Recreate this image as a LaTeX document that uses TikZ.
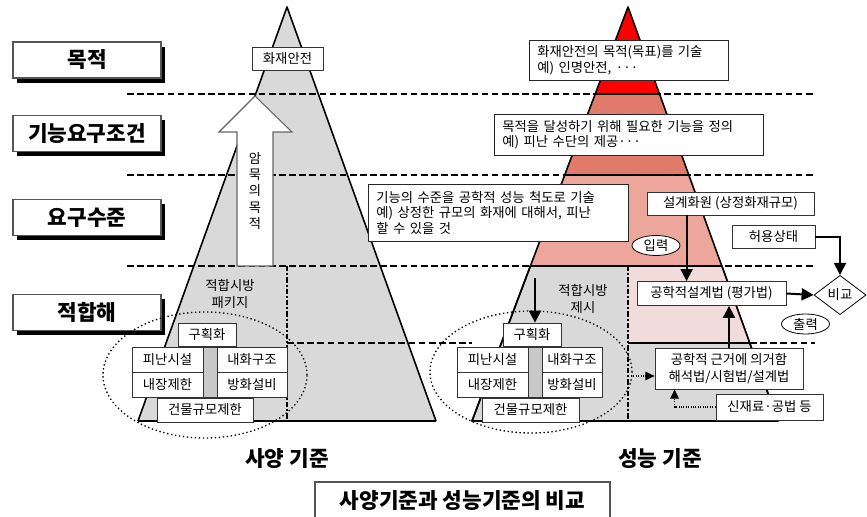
\documentclass[tikz,border=0pt]{standalone}
\usepackage{fontspec}
\setmainfont{Noto Sans CJK KR}
\usetikzlibrary{arrows.meta,shapes.geometric,calc,shadows}
\definecolor{pgray}{HTML}{D9D9D9}
\definecolor{barg}{HTML}{C8C8C8}
\definecolor{bandA}{HTML}{FF0000}
\definecolor{bandB}{HTML}{E07B6B}
\definecolor{bandC}{HTML}{ECA69B}
\definecolor{pinkr}{HTML}{F2DCDB}
\definecolor{edgeg}{HTML}{555555}
\newcommand\smallfs{\fontsize{10}{12.5}\selectfont}
\begin{document}
\begin{tikzpicture}[x=0.75pt,y=-0.75pt,
  lbl/.style={draw=edgeg, fill=white, line width=0.9pt, minimum width=111pt, minimum height=27pt, inner sep=0pt, font=\bfseries\fontsize{16}{19}\selectfont, drop shadow={shadow xshift=3pt,shadow yshift=-3.5pt,fill=black,opacity=1}},
  sbox/.style={draw=black!80, fill=white, line width=0.6pt, inner sep=0pt, font=\smallfs},
  tbox/.style={draw=black!85, fill=white, line width=0.6pt, inner xsep=6pt, inner ysep=0pt, align=left, anchor=north west, font=\fontsize{10}{11.8}\selectfont},
  hdash/.style={line width=1.2pt, dash pattern=on 5pt off 2.6pt},
  vdash/.style={line width=1.1pt, dash pattern=on 4pt off 1.5pt on 1.5pt off 1.5pt},
  pedge/.style={line width=1.2pt, line join=round},
  arr/.style={line width=1.5pt, -{Triangle[length=9pt,width=9pt]}},
  darr/.style={line width=0.8pt, densely dotted, -{Triangle[length=7pt,width=6.5pt]}},
  dell/.style={draw, ellipse, line width=1pt, dotted, inner sep=0pt},
  oval/.style={draw, ellipse, fill=white, line width=0.6pt, inner sep=0pt, minimum width=36pt, minimum height=15pt, font=\smallfs},
  txt/.style={align=center, font=\fontsize{10}{12.8}\selectfont},
  big/.style={font=\bfseries\fontsize{16}{19}\selectfont},
]
\useasboundingbox (0,0) rectangle (867,517);
\fill[white] (0,0) rectangle (867,517);

% left pyramid
\fill[pgray] (287,7) -- (436,421) -- (138,421) -- cycle;
\draw[pedge] (138,421) -- (287,7) -- (436,421);
\draw[pedge] (138,421) -- (436,421);

% horizontal dashed levels
\draw[hdash] (127,94) -- (815,94);
\draw[hdash] (127,175) -- (815,175);
\draw[hdash] (127,266) -- (815,266);
\draw[hdash] (287,343) -- (472,343);
\draw[hdash] (750,343) -- (815,343);
\draw[vdash] (287,266) -- (287,421);

% right pyramid
\filldraw[fill=bandA, pedge] (628,7) -- (659.5,94) -- (595.2,94) -- cycle;
\filldraw[fill=bandB, pedge] (595.2,94) -- (659.5,94) -- (688.8,175) -- (564.7,175) -- cycle;
\filldraw[fill=bandC, pedge] (564.7,175) -- (688.8,175) -- (721.8,266) -- (530.4,266) -- cycle;
\filldraw[fill=pgray, pedge] (530.4,266) -- (721.8,266) -- (778,421) -- (472,421) -- cycle;
\fill[pinkr] (628,266) -- (721.8,266) -- (749.6,343) -- (628,343) -- cycle;
\draw[pedge] (628,343) -- (749.6,343);
\draw[pedge] (530.4,266) -- (721.8,266) -- (778,421) -- (472,421) -- cycle;
\draw[vdash] (628,266) -- (628,421);

% big hollow arrow
\draw[draw=gray!80!black, fill=white, line width=0.8pt, line join=miter]
  (237,266) -- (237,132) -- (219,132) -- (255,96) -- (292,132) -- (273,132) -- (273,266) -- cycle;
\node[align=center, font=\fontsize{10}{12.2}\selectfont] (amuk) at (255,191) {암\\묵\\의\\목\\적};

% left level labels
\node[lbl] (l1) at (87,60) {목적};
\node[lbl] (l2) at (87,133.5) {기능요구조건};
\node[lbl] (l3) at (87,217.5) {요구수준};
\node[lbl] (l4) at (87,312.5) {적합해};

% left pyramid contents
\node[sbox, minimum width=53.25pt, minimum height=17.25pt] (top) at (287.5,58.5) {화재안전};
\node[txt] (pkg) at (230,293.5) {적합시방\\패키지};
\node[sbox, minimum width=43.5pt, minimum height=17.25pt] (lgh) at (207,334.5) {구획화};
\draw[fill=barg, draw=black!80, line width=0.6pt] (203,347) rectangle (217,397);
\node[sbox, minimum width=53.25pt, minimum height=18.75pt] (lpn) at (167.5,359.5) {피난시설};
\node[sbox, minimum width=53.25pt, minimum height=18.75pt] (lnj) at (167.5,384.5) {내장제한};
\node[sbox, minimum width=52.5pt, minimum height=18.75pt] (lnh) at (252,359.5) {내화구조};
\node[sbox, minimum width=52.5pt, minimum height=18.75pt] (lbh) at (252,384.5) {방화설비};
\node[sbox, minimum width=72pt, minimum height=18pt] (lgm) at (205,410) {건물규모제한};

% right pyramid contents
\node[tbox, text width=137.25pt, minimum height=30pt] (b1) at (529,40) {화재안전의 목적(목표)를 기술\\예) 인명안전, ···};
\node[tbox, text width=189.75pt, minimum height=30.75pt] (b2) at (494,114) {목적을 달성하기 위해 필요한 기능을 정의\\예) 피난 수단의 제공···};
\node[tbox, text width=183pt, minimum height=42.75pt] (b3) at (368,184) {기능의 수준을 공학적 성능 척도로 기술\\예) 상정한 규모의 화재에 대해서, 피난\\할 수 있을 것};
\node[sbox, minimum width=125.25pt, minimum height=17.25pt] (sg) at (730.5,203.5) {설계화원 (상정화재규모)};
\node[sbox, minimum width=62.25pt, minimum height=17.25pt] (hy) at (773.5,236.5) {허용상태};
\node[oval] (inp) at (656,245.5) {입력};
\node[sbox, minimum width=111.75pt, minimum height=18pt] (eng) at (711.5,293.5) {공학적설계법 (평가법)};
\node[draw, diamond, fill=white, line width=0.6pt, inner sep=0pt, minimum width=39pt, minimum height=29.5pt, font=\smallfs] (cmp) at (840,295) {비교};
\node[oval] (out) at (805.5,324) {출력};
\node[sbox, align=center, minimum width=111pt, minimum height=30.75pt, font=\fontsize{10}{12.2}\selectfont] (gk) at (729,368.5) {공학적 근거에 의거함\\해석법/시험법/설계법};
\node[sbox, minimum width=80.25pt, minimum height=19.5pt] (sj) at (769.5,407) {신재료·공법 등};

\node[txt] (pres) at (583,299) {적합시방\\제시};
\node[sbox, minimum width=43.5pt, minimum height=17.25pt] (rgh) at (532,334.5) {구획화};
\draw[fill=barg, draw=black!80, line width=0.6pt] (528,347) rectangle (542,397);
\node[sbox, minimum width=53.25pt, minimum height=18.75pt] (rpn) at (492.5,359.5) {피난시설};
\node[sbox, minimum width=53.25pt, minimum height=18.75pt] (rnj) at (492.5,384.5) {내장제한};
\node[sbox, minimum width=45pt, minimum height=18.75pt] (rnh) at (572,359.5) {내화구조};
\node[sbox, minimum width=45pt, minimum height=18.75pt] (rbh) at (572,384.5) {방화설비};
\node[sbox, minimum width=72.75pt, minimum height=18pt] (rgm) at (530.5,410) {건물규모제한};

% connectors
\coordinate (dst) at (535,278);
\draw[arr] (dst) -- (dst |- rgh.north);
\coordinate (sgx) at ($(sg.south west)+(40,0)$);
\draw[arr] (sgx) -- (sgx |- eng.north);
\draw[arr] (hy.east) -| (cmp.north);
\draw[arr] (eng.east) -- (cmp.west);
\draw[arr] (gk.north) -- (gk.north |- eng.south);
\coordinate (gkx) at ($(gk.south west)+(20,0)$);
\draw[darr] (sj.west) -| (gkx);
\coordinate (ea) at (631,376);
\draw[darr] (ea) -- (ea -| gk.west);

% dotted ellipses
\node[dell, minimum width=153pt, minimum height=94.5pt] (lell) at (205,375) {};
\node[dell, minimum width=151.5pt, minimum height=91.5pt] (rell) at (531,372) {};

% bottom captions
\node[big] (cap1) at (287,459) {사양 기준};
\node[big] (cap2) at (660,459) {성능 기준};
\node[draw=edgeg, fill=white, line width=0.9pt, minimum width=221.25pt, minimum height=28.5pt, big] (ttl) at (462.5,501) {사양기준과 성능기준의 비교};
\end{tikzpicture}
\end{document}
